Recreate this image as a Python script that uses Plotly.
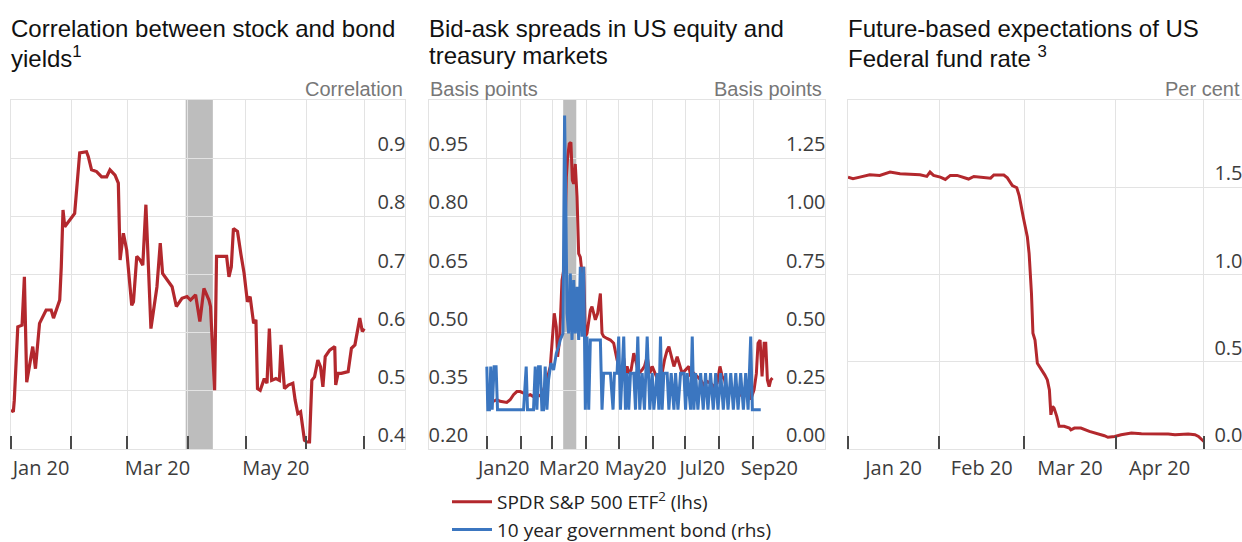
import pandas as pd
import plotly.graph_objects as go

BASE = pd.Timestamp("2020-01-01")

# ---------------- Panel 1: correlation between stock and bond yields ----------------
corr_days = [0, 1.2, 1.7, 3.5, 5.7, 6.9, 8.1, 9.5, 11.2, 12.6,
             14.7, 18.1, 20.7, 21.9, 23.3, 25.1, 25.9, 26.8, 27.7, 31.1,
             32.8, 35.4, 38.9, 39.8, 41.5, 44.1, 46.7, 49.3, 51.0, 53.6,
             55.3, 56.2, 57.9, 59.6, 62.2, 63.1, 64.8, 66.5, 67.9, 69.5,
             70.9, 72.1, 75.2, 76.9, 78.1, 80.4, 83.0, 85.2, 88.1, 90.7,
             92.5, 95.1, 97.3, 99.4, 102.0, 102.8, 104.9, 105.9, 108.9, 111.1,
             112.3, 113.5, 114.6, 116.7, 118.4, 120.1, 121.8, 123.2, 125.0, 126.2,
             127.0, 128.4, 130.5, 131.9, 133.1, 134.3, 136.5, 138.3, 139.1, 140.9,
             142.9, 145.2, 146.4, 147.8, 149.2, 151.2, 152.6, 153.8, 155.0, 156.4,
             158.1, 159.5, 160.7, 161.9, 164.2, 166.8, 167.3, 168.5, 170.2, 173.7,
             175.4, 177.2, 179.7, 181.0, 182.0]
corr_vals = [0.467, 0.464, 0.484, 0.610, 0.613, 0.696, 0.515, 0.541, 0.576, 0.538,
             0.616, 0.639, 0.639, 0.625, 0.639, 0.656, 0.713, 0.811, 0.782, 0.797,
             0.805, 0.909, 0.911, 0.903, 0.880, 0.877, 0.868, 0.868, 0.880, 0.871,
             0.857, 0.725, 0.771, 0.742, 0.647, 0.653, 0.731, 0.725, 0.716, 0.820,
             0.691, 0.607, 0.679, 0.754, 0.702, 0.691, 0.679, 0.645, 0.659, 0.662,
             0.656, 0.665, 0.619, 0.676, 0.656, 0.645, 0.501, 0.731, 0.731, 0.731,
             0.696, 0.713, 0.779, 0.774, 0.736, 0.702, 0.653, 0.662, 0.616, 0.622,
             0.504, 0.501, 0.521, 0.513, 0.607, 0.518, 0.521, 0.518, 0.579, 0.504,
             0.510, 0.513, 0.484, 0.461, 0.464, 0.415, 0.412, 0.412, 0.518, 0.524,
             0.553, 0.541, 0.507, 0.559, 0.570, 0.576, 0.510, 0.530, 0.530, 0.533,
             0.573, 0.579, 0.625, 0.602, 0.607]
corr_shade = ["2020-03-31", "2020-04-14"]
corr_ticks = [0.4, 0.5, 0.6, 0.7, 0.8, 0.9]
corr_xlabels = ["Jan 20", "Mar 20", "May 20"]
corr_xlabel_dates = ["2020-01-16 12:00", "2020-03-16 12:00", "2020-05-16 12:00"]
corr_months = ["2020-01-01", "2020-02-01", "2020-03-01", "2020-04-01",
               "2020-05-01", "2020-06-01", "2020-07-01"]

# ---------------- Panel 2: bid-ask spreads ----------------
spdr_days = [0.0, 3.0, 6.1, 9.2, 12.2, 18.3, 21.4, 24.5, 27.5, 30.6,
             33.7, 36.7, 39.8, 42.8, 45.9, 49.0, 52.0, 55.1, 58.2, 60.3,
             61.8, 63.7, 64.9, 66.7, 68.9, 71.0, 72.9, 74.1, 75.6, 77.1,
             78.4, 79.6, 81.1, 82.7, 84.2, 85.7, 87.3, 88.8, 90.3, 91.8,
             93.4, 94.9, 96.4, 98.0, 99.5, 101.6, 104.1, 105.6, 107.1, 110.2,
             113.3, 116.3, 119.4, 122.5, 124.0, 125.5, 127.1, 128.6, 130.1, 132.3,
             134.7, 136.3, 139.3, 142.4, 144.5, 147.0, 149.4, 151.6, 154.6, 156.8,
             158.6, 160.7, 162.9, 165.3, 166.9, 169.0, 171.5, 174.5, 177.0, 179.1,
             182.2, 185.3, 186.8, 189.8, 192.9, 196.0, 199.0, 202.1, 205.1, 208.2,
             211.2, 213.7, 215.8, 218.0, 220.4, 223.5, 226.6, 229.0, 231.2, 233.3,
             236.4, 238.2, 240.4, 241.9, 243.4, 245.0, 247.1, 248.6, 250.5, 252.3,
             254.2, 255.7, 257.2, 258.8, 260.3, 261.8]
spdr_vals = [0.327, 0.331, 0.323, 0.327, 0.323, 0.320, 0.327, 0.340, 0.348, 0.348,
             0.344, 0.337, 0.340, 0.335, 0.340, 0.337, 0.353, 0.378, 0.413, 0.498,
             0.550, 0.515, 0.438, 0.481, 0.635, 0.670, 0.901, 0.953, 0.987, 0.991,
             0.893, 0.884, 0.935, 0.850, 0.704, 0.695, 0.653, 0.670, 0.490, 0.498,
             0.533, 0.558, 0.567, 0.550, 0.533, 0.550, 0.601, 0.498, 0.490, 0.485,
             0.481, 0.473, 0.430, 0.404, 0.395, 0.434, 0.395, 0.413, 0.395, 0.404,
             0.447, 0.430, 0.395, 0.404, 0.413, 0.438, 0.395, 0.413, 0.395, 0.378,
             0.374, 0.395, 0.430, 0.455, 0.464, 0.438, 0.413, 0.438, 0.413, 0.395,
             0.404, 0.413, 0.387, 0.395, 0.387, 0.378, 0.365, 0.374, 0.370, 0.361,
             0.370, 0.413, 0.387, 0.378, 0.344, 0.353, 0.344, 0.353, 0.335, 0.353,
             0.348, 0.340, 0.378, 0.327, 0.340, 0.353, 0.395, 0.473, 0.481, 0.387,
             0.473, 0.473, 0.378, 0.361, 0.378, 0.383]
bond_days = [0.0, 0.9, 2.4, 3.6, 4.9, 6.7, 8.5, 9.8, 12.2, 15.3,
             18.3, 21.4, 24.5, 27.5, 30.6, 33.7, 36.1, 37.3, 39.8, 42.8,
             44.4, 45.9, 47.4, 49.0, 50.5, 52.0, 53.5, 55.1, 56.6, 58.8,
             61.2, 63.7, 65.8, 67.3, 69.8, 71.3, 72.5, 73.5, 75.0, 76.5,
             78.1, 79.6, 81.1, 82.7, 84.2, 85.7, 87.3, 88.8, 90.3, 91.8,
             93.4, 94.9, 98.0, 101.0, 104.1, 105.6, 107.1, 110.2, 113.3, 115.7,
             117.0, 119.4, 120.9, 122.5, 124.0, 125.5, 127.1, 128.6, 130.1, 131.7,
             134.7, 136.3, 138.4, 140.2, 142.4, 144.5, 147.0, 149.4, 151.6, 153.1,
             156.1, 157.7, 159.2, 160.7, 162.3, 165.3, 166.9, 169.0, 171.5, 173.0,
             175.2, 177.6, 180.7, 182.2, 183.7, 186.8, 188.3, 189.8, 191.4, 193.5,
             196.0, 198.4, 200.5, 202.7, 205.1, 207.6, 209.8, 211.9, 214.4, 216.8,
             219.0, 221.1, 223.6, 226.0, 228.2, 230.3, 232.7, 235.2, 237.3, 239.5,
             241.9, 243.4, 245.0, 248.0, 251.1]
bond_vals = [0.354, 0.169, 0.169, 0.354, 0.169, 0.354, 0.354, 0.169, 0.169, 0.169,
             0.169, 0.169, 0.169, 0.169, 0.169, 0.169, 0.354, 0.169, 0.169, 0.169,
             0.354, 0.169, 0.354, 0.354, 0.169, 0.169, 0.354, 0.169, 0.297, 0.369,
             0.340, 0.411, 0.440, 0.469, 0.497, 1.433, 1.011, 0.583, 0.497, 0.754,
             0.469, 0.726, 0.497, 0.697, 0.469, 0.783, 0.483, 0.783, 0.169, 0.483,
             0.169, 0.469, 0.469, 0.469, 0.469, 0.169, 0.326, 0.326, 0.326, 0.169,
             0.326, 0.326, 0.483, 0.169, 0.326, 0.483, 0.169, 0.326, 0.169, 0.326,
             0.326, 0.169, 0.483, 0.169, 0.326, 0.169, 0.483, 0.169, 0.326, 0.169,
             0.326, 0.169, 0.483, 0.169, 0.326, 0.326, 0.169, 0.326, 0.169, 0.326,
             0.169, 0.326, 0.326, 0.169, 0.326, 0.169, 0.483, 0.169, 0.326, 0.169,
             0.326, 0.169, 0.326, 0.169, 0.326, 0.169, 0.326, 0.169, 0.326, 0.169,
             0.326, 0.169, 0.326, 0.169, 0.326, 0.169, 0.326, 0.169, 0.326, 0.169,
             0.483, 0.169, 0.169, 0.169, 0.169]
bidask_shade = ["2020-03-11", "2020-03-23"]
lhs_ticks = [0.20, 0.35, 0.50, 0.65, 0.80, 0.95]
rhs_ticks = [0.00, 0.25, 0.50, 0.75, 1.00, 1.25]
bidask_xlabels = ["Jan20", "Mar20", "May20", "Jul20", "Sep20"]
bidask_xlabel_dates = ["2020-01-16 12:00", "2020-03-16 12:00", "2020-05-16 12:00",
                       "2020-07-16 12:00", "2020-09-16"]
bidask_months = ["2020-01-01", "2020-02-01", "2020-03-01", "2020-04-01", "2020-05-01",
                 "2020-06-01", "2020-07-01", "2020-08-01", "2020-09-01"]

# ---------------- Panel 3: futures-based fed funds expectations ----------------
ff_days = [0, 1.7, 4.0, 7.4, 10.8, 14.3, 17.7, 21.1, 24.5, 26.8,
           27.9, 29.1, 31.4, 33.1, 34.8, 37.1, 39.3, 41.0, 42.8, 46.2,
           48.5, 49.6, 53.0, 54.2, 55.9, 57.4, 58.2, 59.6, 61.0, 61.6,
           62.4, 62.9, 63.6, 64.4, 65.2, 65.9, 66.9, 67.8, 68.5, 69.0,
           69.6, 70.1, 71.0, 71.8, 73.5, 75.3, 75.8, 77.0, 79.2, 82.1,
           85.0, 87.2, 88.4, 90.7, 92.9, 96.4, 99.8, 104.3, 108.9, 111.2,
           115.7, 118.0, 119.2, 120.4, 121.0]
ff_vals = [1.558, 1.549, 1.558, 1.571, 1.568, 1.587, 1.577, 1.573, 1.571, 1.562,
           1.587, 1.568, 1.558, 1.545, 1.568, 1.568, 1.558, 1.547, 1.562, 1.558,
           1.552, 1.570, 1.570, 1.554, 1.510, 1.497, 1.453, 1.330, 1.215, 1.120,
           0.891, 0.663, 0.625, 0.491, 0.472, 0.453, 0.425, 0.396, 0.339, 0.196,
           0.244, 0.234, 0.187, 0.130, 0.130, 0.120, 0.110, 0.120, 0.120, 0.101,
           0.088, 0.076, 0.067, 0.072, 0.082, 0.091, 0.088, 0.088, 0.086, 0.082,
           0.086, 0.082, 0.072, 0.053, 0.044]
ff_ticks = [0.0, 0.5, 1.0, 1.5]
ff_xlabels = ["Jan 20", "Feb 20", "Mar 20", "Apr 20"]
ff_xlabel_dates = ["2020-01-16 12:00", "2020-02-15 12:00", "2020-03-16 12:00", "2020-04-16"]
ff_months = ["2020-01-01", "2020-02-01", "2020-03-01", "2020-04-01", "2020-05-01"]

# ---------------- helpers ----------------
def to_dates(days):
    return BASE + pd.to_timedelta(days, unit="D")

W, H = 1242, 542
RED = "#b3282d"
BLUE = "#3b76c0"
GRID = "#e3e3e3"
SHADE = "#bdbdbd"
TICKFONT = dict(family="Open Sans", size=20, color="#3c3c3c")
TITLEFONT = dict(family="Liberation Sans, Arial", size=24, color="#111111")
UNITFONT = dict(family="Liberation Sans, Arial", size=20, color="#777777")

YDOM = [1 - 449 / H, 1 - 100 / H]
DOM1 = [11 / W, 405 / W]
DOM2 = [429 / W, 825 / W]
DOM3 = [848 / W, 1.0]

fig = go.Figure()

fig.add_trace(go.Scatter(x=to_dates(corr_days), y=corr_vals, mode="lines",
                         line=dict(color=RED, width=3.2), xaxis="x", yaxis="y",
                         showlegend=False))
fig.add_trace(go.Scatter(x=to_dates(bond_days), y=bond_vals, mode="lines",
                         line=dict(color=BLUE, width=3), xaxis="x2", yaxis="y3",
                         name="10 year government bond (rhs)", legendrank=2))
fig.add_trace(go.Scatter(x=to_dates(spdr_days), y=spdr_vals, mode="lines",
                         line=dict(color=RED, width=3), xaxis="x2", yaxis="y2",
                         name="SPDR S&P 500 ETF<sup>2</sup> (lhs)", legendrank=1))
fig.add_trace(go.Scatter(x=to_dates(ff_days), y=ff_vals, mode="lines",
                         line=dict(color=RED, width=3), xaxis="x3", yaxis="y4",
                         showlegend=False))


def xaxis(domain, rng, label_dates, labels, months, anchor):
    return dict(domain=domain, anchor=anchor, type="date", range=rng, automargin=False,
                tickmode="array", tickvals=label_dates, ticktext=labels,
                ticks="", showgrid=False, zeroline=False,
                showline=True, linecolor=GRID, linewidth=1, mirror=True,
                tickfont=TICKFONT, ticklabelstandoff=1,
                minor=dict(tickmode="array", tickvals=months, ticks="inside",
                           ticklen=13, tickwidth=1.5, tickcolor="#4a4a4a",
                           showgrid=True, gridcolor=GRID, gridwidth=1))


def yaxis(anchor, side, rng, ticks, fmt, grid=True, overlaying=None):
    d = dict(domain=YDOM, anchor=anchor, side=side, range=rng, automargin=False,
             tickmode="array", tickvals=ticks, tickformat=fmt,
             ticklabelposition="inside top", ticklabelshift=0, ticks="", showgrid=grid,
             gridcolor=GRID, gridwidth=1, zeroline=False,
             showline=True, linecolor=GRID, linewidth=1, mirror=True,
             tickfont=TICKFONT)
    if overlaying:
        d["overlaying"] = overlaying
    return d


fig.update_layout(
    width=W, height=H, autosize=False,
    margin=dict(l=0, r=0, t=0, b=0, autoexpand=False),
    paper_bgcolor="white", plot_bgcolor="white",
    xaxis=xaxis(DOM1, ["2020-01-01", "2020-07-22"], corr_xlabel_dates, corr_xlabels,
                corr_months, "y"),
    yaxis=yaxis("x", "right", [0.4, 1.0], corr_ticks, ".1f"),
    xaxis2=xaxis(DOM2, ["2019-11-09", "2020-11-06"], bidask_xlabel_dates, bidask_xlabels,
                 bidask_months, "y2"),
    yaxis2=yaxis("x2", "left", [0.2, 1.1], lhs_ticks, ".2f"),
    yaxis3=yaxis("x2", "right", [0.0, 1.5], rhs_ticks, ".2f", grid=False, overlaying="y2"),
    xaxis3=xaxis(DOM3, ["2020-01-01", "2020-05-14"], ff_xlabel_dates, ff_xlabels,
                 ff_months, "y4"),
    yaxis4=yaxis("x3", "right", [0.0, 2.0], ff_ticks, ".1f"),
    showlegend=True,
    legend=dict(x=447 / W, y=1 - 483 / H, xanchor="left", yanchor="top",
                font=dict(family="Open Sans", size=19, color="#222222"),
                bgcolor="rgba(0,0,0,0)", borderwidth=0, tracegroupgap=0,
                itemwidth=40),
    shapes=[
        dict(type="rect", xref="x", yref="y domain", x0=corr_shade[0], x1=corr_shade[1],
             y0=0, y1=1, fillcolor=SHADE, line=dict(width=0), layer="below"),
        dict(type="rect", xref="x2", yref="y2 domain", x0=bidask_shade[0], x1=bidask_shade[1],
             y0=0, y1=1, fillcolor=SHADE, line=dict(width=0), layer="below"),
    ],
)


def ann(text, xpx, ypx_top, font, xanchor="left"):
    fig.add_annotation(text=text, x=xpx / W, y=1 - ypx_top / H, xref="paper", yref="paper",
                       xanchor=xanchor, yanchor="top", showarrow=False, font=font,
                       align=xanchor, borderpad=0)


# panel titles (two lines each)
ann("Correlation between stock and bond", 10, 14, TITLEFONT)
ann("yields<sup>1</sup>", 10, 41, TITLEFONT)
ann("Bid-ask spreads in US equity and", 428, 14, TITLEFONT)
ann("treasury markets", 428, 41, TITLEFONT)
ann("Future-based expectations of US", 847, 14, TITLEFONT)
ann("Federal fund rate <sup>3</sup>", 847, 41, TITLEFONT)

# axis unit labels
ann("Correlation", 404, 77, UNITFONT, xanchor="right")
ann("Basis points", 429, 77, UNITFONT)
ann("Basis points", 823, 77, UNITFONT, xanchor="right")
ann("Per cent", 1241, 77, UNITFONT, xanchor="right")

fig.write_html("out.html", config={"displayModeBar": False},
               post_script="document.body.style.margin='0';"
                           "document.body.style.overflow='hidden';")
